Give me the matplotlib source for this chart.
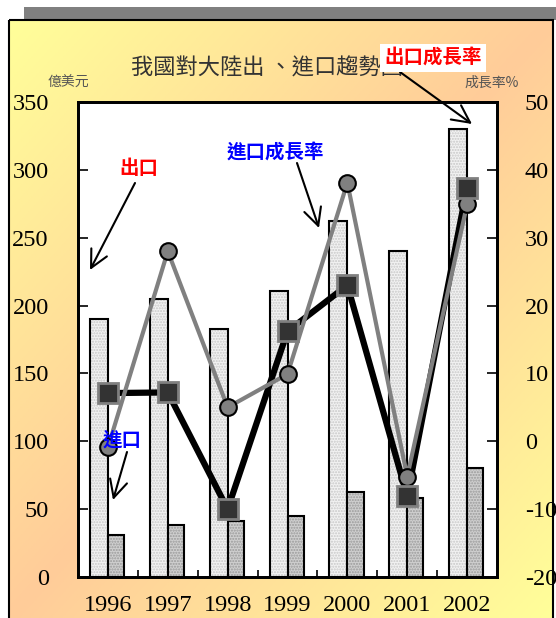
import matplotlib
matplotlib.use("Agg")
import matplotlib.pyplot as plt
import matplotlib.patches as patches
import numpy as np

plt.rcParams['font.family'] = ['Noto Sans CJK TC', 'DejaVu Sans']
plt.rcParams['axes.unicode_minus'] = False

years = ['1996', '1997', '1998', '1999', '2000', '2001', '2002']
export_value = [190, 205, 183, 211, 262, 240, 330]     # 億美元
import_value = [31, 38, 41, 45, 63, 58, 80]            # 億美元
export_growth = [7.1, 7.2, -10.0, 16.2, 23.0, -8.1, 37.4]   # %
import_growth = [-0.9, 28.0, 5.0, 9.9, 38.1, -5.2, 34.9]    # %

W, H = 556, 618
fig = plt.figure(figsize=(W / 100, H / 100), dpi=100)

# 背景：漸層框與上方陰影
bg = fig.add_axes([0, 0, 1, 1], zorder=-5)
bg.set_xlim(0, W)
bg.set_ylim(H, 0)
bg.axis('off')
gx, gy = np.meshgrid(np.linspace(0, 1, 200), np.linspace(0, 1, 200))
t = (gx + gy) / 2
w = 1 - np.abs(2 * t - 1)
yellow = np.array([1.0, 1.0, 0.60])
peach = np.array([1.0, 0.80, 0.60])
grad = yellow[None, None, :] * (1 - w[..., None]) + peach[None, None, :] * w[..., None]
bg.imshow(grad, extent=(9, 553, 618, 20), aspect='auto', zorder=1)
bg.add_patch(patches.Rectangle((24, 7), W - 24, 13, facecolor='#808080', edgecolor='none', zorder=2))
bg.add_patch(patches.Rectangle((9, 20), 544, 600, facecolor='none', edgecolor='black', lw=1.5, zorder=3))

# 主圖
ax = fig.add_axes([78 / W, 1 - 577 / H, (497 - 78) / W, (577 - 102) / H])
ax.set_facecolor('white')
x = np.arange(len(years))
bw = 0.3

ax.bar(x - bw / 2, export_value, bw, color='#f2f2f2', hatch='......', edgecolor='#c8c8c8', lw=0)
ax.bar(x - bw / 2, export_value, bw, fill=False, edgecolor='black', lw=1.5)
ax.bar(x + bw * 0.45, import_value, bw * 0.9, color='#cfcfcf', hatch='......', edgecolor='#9a9a9a', lw=0)
ax.bar(x + bw * 0.45, import_value, bw * 0.9, fill=False, edgecolor='black', lw=1.5)

ax.set_xlim(-0.5, len(years) - 0.5)
ax.set_ylim(0, 350)
ax.set_yticks(np.arange(0, 351, 50))
ax.set_xticks(x)
ax.set_xticklabels(years)
ax.set_xticks(np.arange(0.5, len(years) - 0.5, 1), minor=True)
ax.tick_params(axis='x', which='major', length=0, pad=13)
ax.tick_params(axis='x', which='minor', direction='in', length=5, width=1.2)
ax.tick_params(axis='y', direction='in', length=7, width=1.2, pad=21)
for s in ax.spines.values():
    s.set_linewidth(2)

ax2 = ax.twinx()
ax2.set_ylim(-20, 50)
ax2.set_yticks(np.arange(-20, 51, 10))
ax2.tick_params(axis='y', direction='in', length=7, width=1.2, pad=20)
for s in ax2.spines.values():
    s.set_linewidth(2)

ax2.plot(x, export_growth, color='black', lw=4.5, zorder=3)
ax2.plot(x, import_growth, color='#808080', lw=3, zorder=4)
ax2.plot(x, import_growth, 'o', ms=12, mfc='#808080', mec='black', mew=1.5, zorder=5)
ax2.plot(x, export_growth, 's', ms=15, mfc='#333333', mec='#808080', mew=2, zorder=6)

for a in (ax, ax2):
    for lab in a.get_xticklabels() + a.get_yticklabels():
        lab.set_fontfamily('Liberation Serif')
        lab.set_fontsize(17.5)

# 標題與單位
fig.text(267 / W, 1 - 68 / H, '我國對大陸出 、進口趨勢圖', ha='center', va='center',
         fontsize=16, color='#333333')
fig.text(68 / W, 1 - 83 / H, '億美元', ha='center', va='center', fontsize=10, color='#555555')
fig.text(492 / W, 1 - 83 / H, '成長率%', ha='center', va='center', fontsize=10, color='#555555')


def label(text, color, pos, tip, start, box=False):
    fig.text(pos[0] / W, 1 - pos[1] / H, text, ha='center', va='center', fontsize=14,
             fontweight='bold', color=color, zorder=20,
             bbox=dict(facecolor='white', edgecolor='none', pad=3) if box else None)
    fig.add_artist(patches.FancyArrowPatch(
        (start[0] / W, 1 - start[1] / H), (tip[0] / W, 1 - tip[1] / H),
        transform=fig.transFigure, arrowstyle='->,head_length=0.7,head_width=0.35',
        mutation_scale=18, shrinkA=0, shrinkB=0, color='black', lw=1.5, zorder=19))


label('出口', 'red', (139, 168), (90, 270), (135, 183))
label('進口成長率', 'blue', (275, 153), (319, 228), (297, 163))
label('出口成長率', 'red', (433, 58), (472, 124), (400, 72), box=True)
label('進口', 'blue', (122, 440), (113, 500), (127, 452))

fig.savefig('out.png', dpi=100)
plt.close(fig)
